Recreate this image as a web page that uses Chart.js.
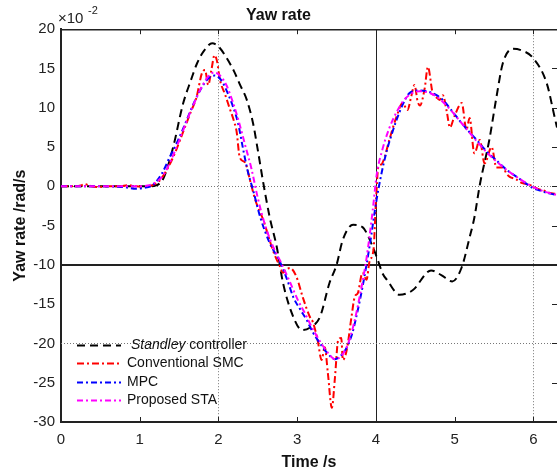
<!DOCTYPE html>
<html>
<head>
<meta charset="utf-8">
<script src="https://cdn.jsdelivr.net/npm/chart.js@4.4.0/dist/chart.umd.min.js"></script>
<style>
  html, body { margin: 0; padding: 0; background: #fff; }
  #wrap { width: 557px; height: 472px; }
</style>
</head>
<body>
<div id="wrap"><canvas id="yawChart" width="557" height="472"></canvas></div>
<script>
// values in units of 1e-2 rad/s, time in s
var standleyT = [0, 0.5, 1.0, 1.1, 1.2, 1.3, 1.42, 1.55, 1.65, 1.73, 1.82, 1.92, 2.0, 2.1, 2.2, 2.27, 2.36, 2.44, 2.5, 2.57, 2.65, 2.74, 2.82, 2.95, 3.06, 3.16, 3.29, 3.41, 3.5, 3.58, 3.71, 3.83, 3.96, 4.01, 4.09, 4.14, 4.3, 4.47, 4.7, 4.83, 4.97, 5.09, 5.19, 5.25, 5.32, 5.44, 5.53, 5.61, 5.74, 5.85, 5.99, 6.17, 6.27, 6.3]
var standleyV = [0, 0, 0, 0, 0.1, 1.0, 4.8, 10.5, 13.5, 15.7, 17.3, 18.2, 17.8, 16.4, 14.6, 13.0, 11.0, 8.0, 4.6, 0.4, -3.9, -7.7, -12.3, -16.6, -18.3, -18.0, -16.6, -12.3, -10.0, -6.8, -4.9, -5.2, -7.7, -9.0, -11.2, -11.9, -13.8, -13.2, -10.7, -11.3, -12.1, -10.3, -6.5, -4.0, 0.2, 5.9, 11.3, 15.6, 17.5, 17.3, 16.4, 13.1, 8.8, 7.5]

var smcT = [0, 0.15, 0.25, 0.3, 0.36, 0.45, 0.6, 0.75, 0.85, 0.95, 1.05, 1.15, 1.25, 1.35, 1.45, 1.55, 1.65, 1.72, 1.79, 1.83, 1.87, 1.91, 1.95, 1.98, 2.02, 2.08, 2.14, 2.2, 2.23, 2.27, 2.34, 2.4, 2.47, 2.57, 2.69, 2.78, 2.82, 2.86, 2.91, 2.99, 3.07, 3.16, 3.2, 3.26, 3.31, 3.35, 3.39, 3.44, 3.48, 3.52, 3.56, 3.58, 3.63, 3.69, 3.73, 3.77, 3.83, 3.88, 3.92, 3.97, 4.0, 4.03, 4.07, 4.11, 4.17, 4.26, 4.34, 4.4, 4.45, 4.49, 4.53, 4.56, 4.62, 4.66, 4.72, 4.77, 4.81, 4.85, 4.9, 4.94, 5.0, 5.09, 5.15, 5.19, 5.25, 5.32, 5.38, 5.47, 5.53, 5.61, 5.66, 5.7, 5.78, 5.86, 5.95, 6.05, 6.12, 6.2, 6.3]
var smcV = [0, 0, 0.1, 0.3, 0.1, -0.1, 0, 0, 0.15, 0, -0.05, 0.1, 0.7, 2.2, 4.3, 6.9, 9.5, 11.3, 14.4, 14.8, 12.9, 14.8, 16.7, 16.0, 13.5, 11.8, 10.0, 8.2, 7.0, 3.7, 3.0, 0.8, -1.8, -4.3, -8.1, -10.2, -11.0, -10.6, -10.4, -11.5, -14.1, -16.6, -17.3, -19.6, -22.1, -20.5, -23.8, -28.2, -24.3, -19.6, -19.3, -22.1, -20.8, -16.6, -14.1, -13.6, -11.0, -11.9, -9.5, -8.0, -2.0, 2.4, 2.8, 3.7, 5.9, 8.8, 10.6, 9.7, 11.5, 12.9, 10.8, 10.3, 12.5, 15.2, 11.9, 11.3, 11.0, 11.6, 9.5, 7.5, 9.0, 10.6, 7.2, 8.7, 4.2, 5.9, 2.9, 5.0, 2.4, 2.4, 1.6, 1.2, 0.9, 0.4, 0.2, -0.3, -0.5, -0.8, -1.0]

var mpcT = [0, 0.5, 0.8, 0.95, 1.05, 1.17, 1.28, 1.38, 1.47, 1.55, 1.64, 1.72, 1.8, 1.89, 1.95, 2.0, 2.06, 2.12, 2.19, 2.25, 2.31, 2.37, 2.44, 2.53, 2.65, 2.78, 2.87, 2.95, 3.04, 3.12, 3.2, 3.29, 3.38, 3.48, 3.56, 3.63, 3.7, 3.76, 3.83, 3.92, 4.01, 4.07, 4.14, 4.2, 4.26, 4.34, 4.43, 4.55, 4.68, 4.77, 4.85, 4.95, 5.06, 5.17, 5.28, 5.4, 5.53, 5.66, 5.79, 5.9, 5.99, 6.1, 6.2, 6.3]
var mpcV = [0, 0, -0.1, -0.3, -0.2, 0.2, 1.6, 3.7, 5.5, 7.3, 9.5, 11.3, 12.8, 13.9, 14.1, 13.9, 13.1, 11.8, 10.0, 8.0, 4.9, 2.0, -0.5, -3.9, -7.2, -9.6, -11.8, -14.1, -15.7, -17.0, -18.6, -20.0, -21.2, -22.0, -21.5, -20.5, -18.7, -16.2, -12.8, -7.6, -1.6, 1.6, 4.6, 6.6, 8.4, 10.4, 11.9, 12.2, 12.0, 11.6, 11.0, 9.8, 8.4, 7.1, 5.9, 4.5, 3.3, 2.1, 1.2, 0.4, -0.2, -0.6, -0.9, -1.1]

var staT = [0, 1.0, 1.1, 1.2, 1.3, 1.4, 1.5, 1.6, 1.7, 1.8, 1.88, 1.95, 2.02, 2.1, 2.18, 2.26, 2.34, 2.42, 2.5, 2.6, 2.7, 2.8, 2.9, 3.0, 3.1, 3.2, 3.3, 3.4, 3.48, 3.56, 3.64, 3.72, 3.8, 3.88, 3.96, 4.01, 4.08, 4.17, 4.26, 4.35, 4.45, 4.55, 4.68, 4.8, 4.95, 5.1, 5.25, 5.4, 5.55, 5.7, 5.85, 6.0, 6.15, 6.3]
var staV = [0, 0, 0.1, 0.5, 1.4, 3.4, 5.8, 8.4, 10.8, 12.9, 14.1, 14.5, 14.1, 12.9, 10.8, 8.2, 5.2, 2.2, -1.5, -5.2, -7.8, -9.8, -12.0, -14.3, -16.2, -18.2, -19.9, -21.3, -22.0, -21.6, -20.2, -17.5, -13.7, -9.2, -3.0, 1.5, 4.6, 7.4, 9.4, 10.9, 11.8, 12.1, 11.9, 11.2, 9.7, 7.9, 6.1, 4.4, 3.0, 1.8, 0.8, -0.1, -0.7, -1.1]

var seriesNames = ['Standley controller', 'Conventional SMC', 'MPC', 'Proposed STA']
var xTicks = [0, 1, 2, 3, 4, 5, 6]
var yTicks = [20, 15, 10, 5, 0, -5, -10, -15, -20, -25, -30]

// reference lines as in the original figure
var vLines = [{ v: 2, kind: 'dot' }, { v: 4, kind: 'solid' }, { v: 6, kind: 'dot' }]
var hLines = [{ v: 0, kind: 'dot' }, { v: -10, kind: 'thick' }, { v: -20, kind: 'dot' }]

function pts (T, V) {
  return T.map(function (t, i) { return { x: t, y: V[i] } })
}

Chart.defaults.font.family = '"Liberation Sans", Arial, sans-serif'
Chart.defaults.color = '#222'

function lineStyle (c, kind) {
  if (kind === 'dot') { c.strokeStyle = '#777'; c.lineWidth = 1; c.setLineDash([1, 2]) }
  else if (kind === 'thick') { c.strokeStyle = '#222'; c.lineWidth = 2; c.setLineDash([]) }
  else { c.strokeStyle = '#222'; c.lineWidth = 1; c.setLineDash([]) }
}

var framePlugin = {
  id: 'frame',
  beforeDatasetsDraw: function (chart) {
    var c = chart.ctx, a = chart.chartArea, xs = chart.scales.x, ys = chart.scales.y
    c.save()
    vLines.forEach(function (l) {
      var px = Math.round(xs.getPixelForValue(l.v)) + 0.5
      lineStyle(c, l.kind)
      c.beginPath(); c.moveTo(px, a.top); c.lineTo(px, a.bottom); c.stroke()
    })
    hLines.forEach(function (l) {
      var py = Math.round(ys.getPixelForValue(l.v)) + (l.kind === 'thick' ? 0 : 0.5)
      lineStyle(c, l.kind)
      c.beginPath(); c.moveTo(a.left, py); c.lineTo(a.right, py); c.stroke()
    })
    c.restore()
  },
  afterDatasetsDraw: function (chart) {
    var c = chart.ctx, a = chart.chartArea, xs = chart.scales.x, ys = chart.scales.y
    c.save()
    c.setLineDash([])
    c.strokeStyle = '#222'
    c.lineWidth = 1.5
    c.beginPath(); c.moveTo(a.left, a.top + 0.5); c.lineTo(a.right, a.top + 0.5); c.stroke()
    c.lineWidth = 1
    xTicks.forEach(function (v) {
      var px = Math.round(xs.getPixelForValue(v)) + 0.5
      c.beginPath(); c.moveTo(px, a.top); c.lineTo(px, a.top + 5); c.stroke()
      c.beginPath(); c.moveTo(px, a.bottom); c.lineTo(px, a.bottom - 5); c.stroke()
    })
    yTicks.forEach(function (v) {
      var py = Math.round(ys.getPixelForValue(v)) + 0.5
      c.beginPath(); c.moveTo(a.right, py); c.lineTo(a.right - 5, py); c.stroke()
    })
    // exponent label
    c.fillStyle = '#222'
    c.textBaseline = 'alphabetic'
    c.textAlign = 'left'
    c.font = '15px "Liberation Sans", Arial, sans-serif'
    c.fillText('\u00d710', a.left - 3, a.top - 6)
    c.font = '11px "Liberation Sans", Arial, sans-serif'
    c.fillText('-2', a.left + 27, a.top - 15)
    c.restore()
  },
  afterDraw: function (chart) {
    var c = chart.ctx
    c.save()
    var x0 = 77, x1 = 121, y0 = 345, dy = 18.3
    chart.data.datasets.forEach(function (ds, i) {
      var y = Math.round(y0 + i * dy) + 0.5
      c.strokeStyle = ds.borderColor
      c.lineWidth = ds.borderWidth
      c.setLineDash(ds.borderDash)
      c.beginPath(); c.moveTo(x0, y); c.lineTo(x1, y); c.stroke()
      c.fillStyle = '#111'
      c.textBaseline = 'middle'
      c.textAlign = 'left'
      var name = seriesNames[i]
      if (i === 0) {
        var first = name.split(' ')[0]
        c.font = 'italic 14px "Liberation Sans", Arial, sans-serif'
        c.fillText(first, 131, y)
        var w = c.measureText(first + ' ').width
        c.font = '14px "Liberation Sans", Arial, sans-serif'
        c.fillText(name.slice(first.length + 1), 131 + w, y)
      } else {
        c.font = '14px "Liberation Sans", Arial, sans-serif'
        c.fillText(name, 127, y)
      }
    })
    c.restore()
  }
}

var ctx = document.getElementById('yawChart')
var chart = new Chart(ctx, {
  type: 'line',
  data: {
    datasets: [
      { label: seriesNames[0], data: pts(standleyT, standleyV), borderColor: '#000000', borderWidth: 2, borderDash: [8, 5], order: 4 },
      { label: seriesNames[1], data: pts(smcT, smcV), borderColor: '#ff0000', borderWidth: 2, borderDash: [7, 3, 2, 3], order: 3 },
      { label: seriesNames[2], data: pts(mpcT, mpcV), borderColor: '#0000ff', borderWidth: 2, borderDash: [6, 3, 2, 3], order: 2 },
      { label: seriesNames[3], data: pts(staT, staV), borderColor: '#ff00ff', borderWidth: 2, borderDash: [6, 3, 2, 3], order: 1 }
    ]
  },
  options: {
    responsive: false,
    animation: false,
    parsing: false,
    layout: { padding: 0 },
    elements: {
      point: { radius: 0 },
      line: { cubicInterpolationMode: 'monotone', fill: false }
    },
    plugins: {
      legend: { display: false },
      tooltip: { enabled: false },
      title: {
        display: true,
        text: 'Yaw rate',
        color: '#111',
        font: { size: 16, weight: 'bold' },
        padding: { top: 6, bottom: 4 }
      }
    },
    scales: {
      x: {
        type: 'linear',
        min: 0,
        max: 6.3,
        afterBuildTicks: function (s) { s.ticks = xTicks.map(function (v) { return { value: v } }) },
        afterFit: function (s) { s.height = 50 },
        grid: { drawOnChartArea: false, drawTicks: false },
        border: { display: true, color: '#222', width: 2 },
        ticks: { padding: 9, font: { size: 15 }, color: '#222', maxRotation: 0 },
        title: { display: true, text: 'Time /s', color: '#111', font: { size: 16, weight: 'bold' }, padding: { top: 0, bottom: 0 } }
      },
      y: {
        type: 'linear',
        min: -30,
        max: 20,
        afterBuildTicks: function (s) { s.ticks = yTicks.map(function (v) { return { value: v } }) },
        afterFit: function (s) { s.width = 61 },
        grid: { drawOnChartArea: false, drawTicks: false },
        border: { display: true, color: '#222', width: 2 },
        ticks: { padding: 6, font: { size: 15 }, color: '#222', callback: function (v) { return String(v) } },
        title: { display: true, text: 'Yaw rate /rad/s', color: '#111', font: { size: 16, weight: 'bold' }, padding: { top: 11, bottom: 0 } }
      }
    }
  },
  plugins: [framePlugin]
})
</script>
</body>
</html>
